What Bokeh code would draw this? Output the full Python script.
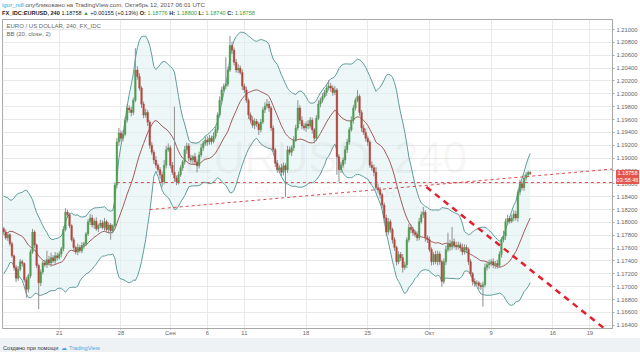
import numpy as np
from bokeh.plotting import figure
from bokeh.models import ColumnDataSource, FixedTicker, PrintfTickFormatter, Label, Range1d, Div
from bokeh.layouts import column
from bokeh.embed import file_html
from bokeh.resources import INLINE

# ---- data (EURUSD, 240 min candles; x = candle index) ----
warmup_close = [1.1735, 1.1742, 1.1730, 1.1748, 1.1755, 1.1745, 1.1760, 1.1772, 1.1768, 1.1785,
                1.1800, 1.1812, 1.1808, 1.1822, 1.1830, 1.1818, 1.1805, 1.1795, 1.1790]

close = [
    1.1785, 1.1776, 1.1781, 1.1767, 1.1748, 1.1730, 1.1713, 1.1727, 1.1739, 1.1736, 1.1711, 1.1696, 1.1717, 1.1754, 1.1785, 1.1765, 1.1733, 1.1706, 1.1723, 1.1737,
    1.1734, 1.1742, 1.1737, 1.1745, 1.1740, 1.1748, 1.1745, 1.1751, 1.1759, 1.1789, 1.1816, 1.1812, 1.1795, 1.1773, 1.1761, 1.1754, 1.1761, 1.1756, 1.1764, 1.1767,
    1.1782, 1.1801, 1.1807, 1.1796, 1.1802, 1.1790, 1.1795, 1.1799, 1.1792, 1.1801, 1.1789, 1.1796, 1.1787, 1.1795, 1.1858, 1.1925, 1.1939, 1.1931, 1.1937, 1.1959,
    1.1978, 1.1975, 1.1971, 1.1990, 1.2037, 1.2027, 1.2009, 1.1984, 1.1967, 1.1971, 1.1956, 1.1920, 1.1909, 1.1897, 1.1889, 1.1882, 1.1874, 1.1863, 1.1889, 1.1913,
    1.1916, 1.1889, 1.1878, 1.1869, 1.1863, 1.1874, 1.1885, 1.1894, 1.1913, 1.1919, 1.1900, 1.1897, 1.1902, 1.1894, 1.1888, 1.1905, 1.1916, 1.1923, 1.1928, 1.1925,
    1.1931, 1.1926, 1.1934, 1.1944, 1.1967, 1.1990, 1.2006, 1.2012, 1.2015, 1.2037, 1.2075, 1.2068, 1.2049, 1.2037, 1.2040, 1.2033, 1.2012, 1.2006, 1.1990, 1.1967,
    1.1959, 1.1951, 1.1957, 1.1953, 1.1944, 1.1956, 1.1975, 1.1981, 1.1984, 1.1978, 1.1947, 1.1913, 1.1892, 1.1882, 1.1885, 1.1878, 1.1888, 1.1882, 1.1913, 1.1909,
    1.1916, 1.1928, 1.1947, 1.1978, 1.1959, 1.1950, 1.1947, 1.1953, 1.1950, 1.1959, 1.1944, 1.1931, 1.1962, 1.1984, 1.1990, 1.1996, 1.2002, 1.2009, 1.2012, 1.2009,
    1.2002, 1.2006, 1.1902, 1.1882, 1.1889, 1.1897, 1.1913, 1.1925, 1.1944, 1.1959, 1.1978, 1.1990, 1.1996, 1.1971, 1.1947, 1.1940, 1.1931, 1.1925, 1.1889, 1.1885,
    1.1878, 1.1854, 1.1851, 1.1843, 1.1827, 1.1807, 1.1785, 1.1801, 1.1789, 1.1773, 1.1761, 1.1739, 1.1750, 1.1745, 1.1730, 1.1734, 1.1773, 1.1792, 1.1789, 1.1784,
    1.1781, 1.1776, 1.1801, 1.1812, 1.1816, 1.1776, 1.1773, 1.1758, 1.1739, 1.1750, 1.1739, 1.1751, 1.1739, 1.1708, 1.1739, 1.1758, 1.1767, 1.1762, 1.1770, 1.1764,
    1.1762, 1.1765, 1.1761, 1.1754, 1.1761, 1.1758, 1.1739, 1.1720, 1.1708, 1.1705, 1.1706, 1.1702, 1.1700, 1.1703, 1.1730, 1.1734, 1.1736, 1.1739, 1.1734, 1.1736,
    1.1733, 1.1750, 1.1773, 1.1779, 1.1801, 1.1806, 1.1802, 1.1807, 1.1813, 1.1807, 1.1847, 1.1860, 1.1854, 1.1869, 1.1874, 1.18776, 1.18758,
]

# wick lengths beyond the body, in pips
wick_up = [
    3, 4, 3, 2, 3, 2, 4, 5, 4, 3, 2, 4, 3, 4, 5, 3, 2, 3, 4, 3,
    5, 14, 6, 8, 4, 6, 5, 4, 3, 5, 6, 4, 3, 2, 4, 3, 6, 4, 5, 3,
    3, 4, 6, 5, 4, 6, 3, 5, 4, 6, 3, 4, 3, 2, 4, 6, 8, 4, 6, 5,
    6, 4, 5, 4, 34, 6, 5, 3, 4, 6, 4, 3, 5, 4, 6, 3, 4, 5, 8, 6,
    7, 4, 5, 102, 4, 5, 4, 3, 6, 5, 4, 5, 3, 6, 4, 5, 6, 4, 5, 6,
    5, 4, 6, 5, 4, 6, 5, 4, 42, 5, 15, 6, 4, 5, 6, 4, 5, 4, 5, 3,
    4, 6, 5, 4, 3, 5, 4, 6, 8, 5, 3, 4, 3, 5, 4, 6, 5, 4, 6, 5,
    4, 6, 5, 12, 4, 6, 5, 4, 6, 5, 4, 3, 5, 6, 4, 5, 4, 6, 9, 5,
    4, 6, 3, 4, 5, 4, 6, 5, 4, 6, 5, 4, 10, 3, 4, 5, 6, 4, 3, 6,
    5, 8, 6, 4, 3, 4, 5, 6, 4, 3, 4, 3, 5, 4, 6, 5, 4, 6, 5, 4,
    4, 5, 6, 5, 8, 3, 4, 5, 3, 4, 6, 5, 4, 3, 5, 6, 17, 6, 23, 5,
    6, 5, 4, 6, 5, 4, 3, 4, 3, 5, 4, 3, 4, 5, 6, 5, 6, 4, 5, 4,
    6, 5, 4, 8, 5, 6, 4, 5, 6, 5, 4, 6, 4, 5, 4, 3, 2,
]
wick_dn = [
    4, 3, 5, 4, 3, 5, 6, 4, 3, 5, 4, 13, 5, 4, 3, 5, 4, 41, 5, 4,
    3, 5, 4, 6, 3, 5, 4, 3, 5, 4, 3, 5, 4, 3, 6, 4, 5, 3, 4, 5,
    4, 3, 5, 4, 6, 3, 5, 4, 3, 5, 4, 6, 14, 4, 3, 5, 6, 4, 5, 3,
    4, 5, 6, 4, 3, 5, 4, 6, 5, 4, 6, 5, 4, 6, 5, 4, 6, 8, 4, 5,
    3, 5, 4, 6, 5, 4, 3, 5, 4, 6, 5, 4, 6, 5, 10, 4, 3, 5, 4, 6,
    4, 5, 3, 4, 5, 4, 6, 3, 5, 4, 3, 6, 5, 4, 5, 3, 6, 5, 4, 6,
    5, 4, 6, 5, 8, 4, 3, 5, 4, 6, 5, 4, 6, 5, 4, 6, 5, 42, 5, 4,
    6, 5, 3, 4, 6, 5, 4, 6, 5, 4, 6, 8, 4, 3, 5, 4, 3, 5, 4, 6,
    5, 4, 28, 19, 5, 4, 6, 5, 4, 3, 5, 4, 3, 5, 6, 4, 5, 6, 4, 5,
    6, 4, 5, 6, 5, 8, 6, 4, 5, 6, 5, 6, 4, 5, 8, 4, 5, 4, 6, 5,
    4, 5, 4, 3, 5, 6, 5, 4, 6, 5, 4, 6, 5, 8, 4, 5, 4, 6, 5, 4,
    5, 4, 6, 5, 4, 6, 5, 4, 6, 5, 4, 6, 5, 31, 4, 5, 6, 4, 5, 6,
    5, 4, 5, 4, 6, 5, 4, 3, 5, 4, 6, 5, 4, 5, 4, 3, 2,
]

date_ticks = [27, 57, 81, 99, 117, 147, 177, 207, 237, 267, 285]
date_labels = ["21", "28", "Сен", "6", "11", "18", "25", "Окт", "9", "16", "19"]
price_ticks = [1.164, 1.166, 1.168, 1.170, 1.172, 1.174, 1.176, 1.178, 1.180, 1.182, 1.184, 1.186,
               1.188, 1.190, 1.192, 1.194, 1.196, 1.198, 1.200, 1.202, 1.204, 1.206, 1.208, 1.210]

# drawn trend lines: (x0, x1), (y0, y1)
level_x, level_y = [55, 296], [1.1862, 1.1862]
rising_x, rising_y = [71, 296], [1.1820, 1.1883]
falling_x, falling_y = [205.5, 296], [1.1855, 1.1625]

bb_length, bb_mult = 20, 2

# ---- derived ----
n = len(close)
t = np.arange(n)
c = np.array(close)
o = np.concatenate([[warmup_close[-1]], c[:-1]])
hi = np.maximum(o, c) + np.array(wick_up) * 1e-4
lo = np.minimum(o, c) - np.array(wick_dn) * 1e-4
up = c >= o
full = np.array(warmup_close + close)
basis = np.array([full[i - bb_length + 1:i + 1].mean() for i in range(bb_length - 1, len(full))])
sd = np.array([full[i - bb_length + 1:i + 1].std() for i in range(bb_length - 1, len(full))])
upper = basis + bb_mult * sd
lower = basis - bb_mult * sd

UP_COL, DN_COL = "#4f9d52", "#b3473f"
src = ColumnDataSource(dict(t=t, o=o, c=c, hi=hi, lo=lo,
                            top=np.maximum(o, c), bot=np.minimum(o, c),
                            col=[UP_COL if u else DN_COL for u in up]))
bb = ColumnDataSource(dict(t=t, basis=basis, upper=upper, lower=lower))

W = 640
HEAD_H, FIG_H, FOOT_H = 18, 320, 14
p = figure(width=W, height=FIG_H, x_range=Range1d(-0.6, 296.0), y_range=Range1d(1.16350, 1.21156),
           y_axis_location="right", toolbar_location=None, output_backend="svg",
           min_border_left=2, min_border_right=25, min_border_top=1, min_border_bottom=9)
p.background_fill_color = "white"
p.border_fill_color = "white"
p.outline_line_color = "#a8a8a8"

p.xgrid.ticker = FixedTicker(ticks=date_ticks)
p.ygrid.ticker = FixedTicker(ticks=price_ticks)
p.grid.grid_line_color = "#e9e9e9"

ya = p.yaxis[0]
ya.ticker = FixedTicker(ticks=price_ticks)
ya.formatter = PrintfTickFormatter(format="%.5f")
xa = p.xaxis[0]
xa.ticker = FixedTicker(ticks=date_ticks)
xa.major_label_overrides = {k: v for k, v in zip(date_ticks, date_labels)}
for ax in (xa, ya):
    ax.major_label_text_font = "Liberation Sans"
    ax.major_label_text_font_size = "5.8px"
    ax.major_label_text_color = "#666666"
    ax.axis_line_color = "#a8a8a8"
    ax.major_tick_line_color = "#a8a8a8"
    ax.major_tick_out = 2
    ax.major_tick_in = 0
    ax.minor_tick_line_color = None
ya.major_label_standoff = 2
xa.major_tick_out = 1
xa.major_label_standoff = 0

# Bollinger bands
p.varea(x="t", y1="lower", y2="upper", source=bb, fill_color="#dff0f0", fill_alpha=0.55)
p.line(x="t", y="upper", source=bb, line_color="#5f9c9c", line_width=1)
p.line(x="t", y="lower", source=bb, line_color="#5f9c9c", line_width=1)
p.line(x="t", y="basis", source=bb, line_color="#a05a5a", line_width=1)

# candles
p.segment(x0="t", y0="lo", x1="t", y1="hi", source=src, line_color="#8f8f8f", line_width=1)
p.vbar(x="t", width=0.8, top="top", bottom="bot", source=src, fill_color="col", line_color="col", line_width=0.4)

# trend lines
p.line(level_x, level_y, line_color="#e0474d", line_width=1, line_dash="3 3")
p.line(rising_x, rising_y, line_color="#e0474d", line_width=1, line_dash="3 3")
p.line(falling_x, falling_y, line_color="#e0202e", line_width=2.5, line_dash="6 5")


def lab(txt, x, ytop, size, color, align="left", alpha=1.0):
    # ytop is measured from the top of the figure canvas
    lb = Label(x=x, y=ytop, x_units="canvas", y_units="canvas", text=txt,
               text_font="Liberation Sans", text_font_size=f"{size}px", text_color=color,
               text_align=align, text_baseline="middle", text_alpha=alpha)
    p.add_layout(lb)


# watermark
lab("EURUSD, 240", 325, 157 - HEAD_H, 44, "#000000", align="center", alpha=0.05)
lab("EURO / US DOLLAR", 325, 191 - HEAD_H, 15, "#000000", align="center", alpha=0.05)
# legend inside the pane
lab("EURO / US DOLLAR, 240, FX_IDC", 6, 25 - HEAD_H, 6, "#666666")
lab("BB (20, close, 2)", 6, 33 - HEAD_H, 6, "#666666")

FONT = "font-family:'Liberation Sans',Arial,sans-serif;"
G = "color:#3d9a3d;"
header = Div(
    width=W, height=HEAD_H, margin=(0, 0, 0, 0),
    styles={"background-color": "white"},
    text=(
        f"<div style=\"{FONT}font-size:6.1px;line-height:8px;padding:1px 0 0 2px;white-space:nowrap;color:#555\">"
        "<span style='color:#3d9fd8'>igor_ndl</span> опубликовано на TradingView.com, Октябрь 12, 2017 06:01 UTC</div>"
        f"<div style=\"{FONT}font-size:5.6px;line-height:8px;padding:0 0 0 2px;white-space:nowrap;color:#222\">"
        f"<b>FX_IDC:EURUSD, 240</b> 1.18758 <span style='{G}'>▲</span> +0.00155 (+0.13%) "
        f"<b>O:</b><span style='{G}'> 1.18776</span> <b>H:</b><span style='{G}'> 1.18800</span> "
        f"<b>L:</b><span style='{G}'> 1.18740</span> <b>C:</b><span style='{G}'> 1.18758</span></div>"
    ),
)

TAG = ("position:absolute;left:616px;width:23px;height:7px;background:#e5544c;color:white;"
       f"{FONT}font-size:5.6px;line-height:7px;text-align:center;z-index:10;")
footer = Div(
    width=W, height=FOOT_H, margin=(0, 0, 0, 0),
    styles={"background-color": "#eff2f5"},
    text=(
        f"<div style=\"{TAG}top:-168px\">1.18758</div>"
        f"<div style=\"{TAG}top:-161px\">03:58:46</div>"
        f"<div style=\"{FONT}font-size:5.6px;line-height:12px;padding:1px 0 0 3px;white-space:nowrap;color:#333\">"
        "Создано при помощи&nbsp;&nbsp;<span style='color:#4aa3df'>&#9729;&nbsp;TradingView</span></div>"
    ),
)

layout = column(header, p, footer, spacing=0)
open("out.html", "w").write(file_html(layout, INLINE))
